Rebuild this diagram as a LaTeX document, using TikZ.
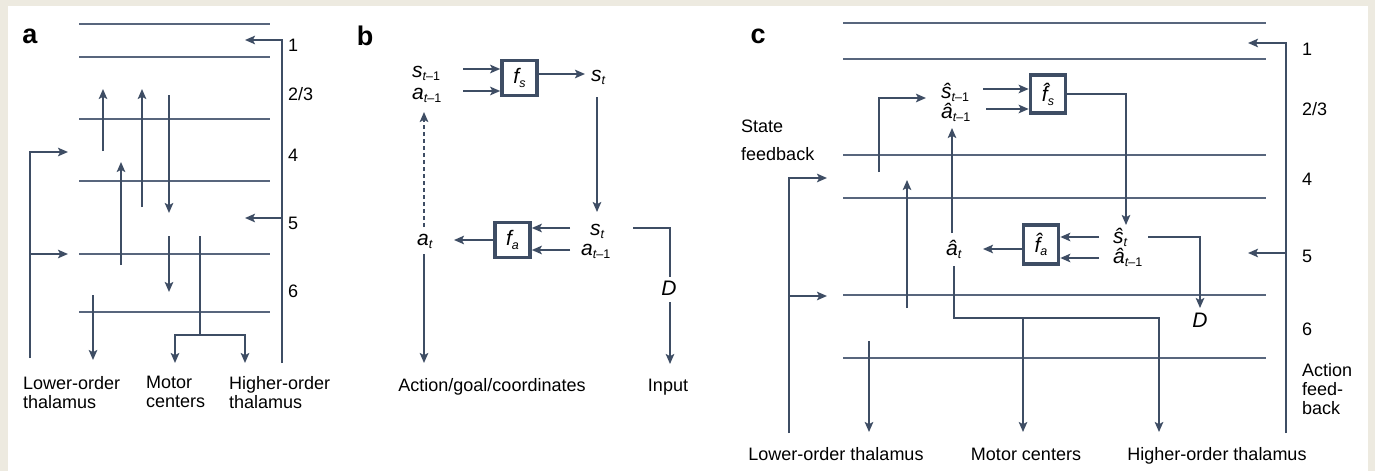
\documentclass[tikz,border=0pt]{standalone}
\usepackage{fontspec}
\setmainfont{Liberation Sans}
\usetikzlibrary{arrows.meta}

\definecolor{bgcard}{RGB}{237,234,224}
\definecolor{ink}{RGB}{62,77,100}
\definecolor{layerc}{RGB}{88,102,125}

\newcommand{\subs}[1]{\raisebox{-0.16em}{\fontsize{12.5}{12.5}\selectfont #1}}

\tikzset{
  cortex/.style={draw=layerc, line width=1.5pt},
  wire/.style={draw=ink, line width=2.6pt},
  arr/.style={wire, -{Stealth[length=10pt,width=8.5pt,inset=2.2pt]}},
  fbox/.style={draw=ink, line width=3.6pt, minimum width=35pt, minimum height=35pt,
    inner sep=0pt, font=\fontsize{21}{23}\selectfont\itshape},
  var/.style={inner sep=0pt, anchor=base west, font=\fontsize{21}{23}\selectfont\itshape},
  lbl/.style={inner sep=0pt, font=\fontsize{18}{19}\selectfont},
  num/.style={lbl, anchor=west},
  panel/.style={inner sep=0pt, font=\fontsize{27}{27}\selectfont\bfseries},
}

\begin{document}
\begin{tikzpicture}[x=1pt, y=-1pt]

\fill[bgcard] (0,0) rectangle (1375,471);
\fill[white] (8,6) rectangle (1368,471);
\useasboundingbox (0,0) rectangle (1375,471);

% Panel a
\node[panel] (pa) at (30,36) {a};
\foreach \y in {24,57,119,181,254,312} \draw[cortex] (79,\y) -- (270,\y);
\node[num] (a1) at (288,45) {1};
\node[num] (a23) at (288,94) {2/3};
\node[num] (a4) at (288,155) {4};
\node[num] (a5) at (288,223) {5};
\node[num] (a6) at (288,291) {6};

\draw[arr] (282,363) -- (282,40) -- (245,40);
\draw[arr] (282,218) -- (245,218);
\draw[arr] (30,358) -- (30,152) -- (68,152);
\draw[arr] (30,254) -- (68,254);

\draw[arr] (103,151) -- (103,89);
\draw[arr] (142,207) -- (142,89);
\draw[arr] (121,265) -- (121,162);
\draw[arr] (169,95) -- (169,213);
\draw[arr] (169,236) -- (169,292);
\draw[arr] (93,295) -- (93,360);

\draw[wire] (200,236) -- (200,335);
\draw[arr] (200,335) -| (175,363);
\draw[arr] (200,335) -| (245,363);

\node[lbl, align=left, anchor=north west] (alower) at (23,376) {Lower-order\\thalamus};
\node[lbl, align=left, anchor=north west] (amotor) at (146,376) {Motor\\centers};
\node[lbl, align=left, anchor=north west] (ahigher) at (229,376) {Higher-order\\thalamus};

% Panel b
\node[panel] (pb) at (365,36) {b};
\node[var] (bsprev) at (412,77) {s\subs{t\upshape–1}};
\node[var] (baprev) at (412,99) {a\subs{t\upshape–1}};
\node[fbox] (fs) at (519.5,78) {f\subs{s}};
\node[var] (bst) at (591,81) {s\subs{t}};
\node[var] (bstb) at (590,235) {s\subs{t}};
\node[var] (bapb) at (581,255) {a\subs{t\upshape–1}};
\node[fbox] (fa) at (512.5,240) {f\subs{a}};
\node[var] (bat) at (417,245) {a\subs{t}};
\node[var, anchor=base] (bD) at (669,295) {D};
\node[lbl, anchor=base] (baction) at (492,391) {Action/goal/coordinates};
\node[lbl, anchor=base] (binput) at (668,391) {Input};

\coordinate (bin1) at (463,69);
\coordinate (bin2) at (463,91);
\draw[arr] (bin1) -- (bin1 -| fs.west);
\draw[arr] (bin2) -- (bin2 -| fs.west);
\coordinate (bout) at (585,74);
\draw[arr] (bout -| fs.east) -- (bout);
\draw[arr] (597,97) -- (597,212);
\coordinate (bin3) at (570,228);
\coordinate (bin4) at (570,250);
\draw[arr] (bin3) -- (bin3 -| fa.east);
\draw[arr] (bin4) -- (bin4 -| fa.east);
\draw[arr] (fa.west) -- (454,240);
\draw[arr, dash pattern=on 4pt off 3pt] (424,227) -- (424,112);
\draw[arr] (424,254) -- (424,363);
\draw[wire] (633,228) -| (670,277);
\draw[arr] (670,302) -- (670,364);

% Panel c
\node[panel] (pc) at (758,36) {c};
\foreach \y in {23,59,155,198,295,358} \draw[cortex] (843,\y) -- (1266,\y);
\node[num] (c1) at (1302,49) {1};
\node[num] (c23) at (1302,109) {2/3};
\node[num] (c4) at (1302,179) {4};
\node[num] (c5) at (1302,256) {5};
\node[num] (c6) at (1302,329) {6};
\node[lbl, align=left, anchor=north west] (cafb) at (1302,363) {Action\\feed-\\back};
\node[lbl, align=left, anchor=north west] (csfb) at (741,120) {State\\[9pt]feedback};

\draw[arr] (1286,433) -- (1286,43) -- (1248,43);
\draw[arr] (1286,253) -- (1248,253);
\draw[arr] (789,433) -- (789,178) -- (827,178);
\draw[arr] (789,296) -- (827,296);

\node[var] (csprev) at (941,98) {\^{s}\subs{t\upshape–1}};
\node[var] (caprev) at (941,118) {\^{a}\subs{t\upshape–1}};
\node[fbox, minimum height=38pt] (cfs) at (1048,94) {\^{f}\subs{s}};
\node[var] (cst) at (1113,243) {\^{s}\subs{t}};
\node[var] (capb) at (1113,263) {\^{a}\subs{t\upshape–1}};
\node[fbox, minimum height=39pt] (cfa) at (1041,244.5) {\^{f}\subs{a}};
\node[var] (cat) at (946,255) {\^{a}\subs{t}};
\node[var, anchor=base] (cD) at (1200,327) {D};

\draw[arr] (879,172) |- (926,98);
\coordinate (cin1) at (983,89);
\coordinate (cin2) at (986,109);
\draw[arr] (cin1) -- (cin1 -| cfs.west);
\draw[arr] (cin2) -- (cin2 -| cfs.west);
\draw[arr] (cfs.east) -| (1126,225);
\coordinate (cin3) at (1099,237);
\coordinate (cin4) at (1099,258);
\draw[arr] (cin3) -- (cin3 -| cfa.east);
\draw[arr] (cin4) -- (cin4 -| cfa.east);
\coordinate (cout) at (983,249);
\draw[arr] (cout -| cfa.west) -- (cout);
\draw[arr] (952,233) -- (952,128);
\draw[arr] (907,308) -- (907,180);
\draw[arr] (1148,237) -| (1200,308);
\draw[arr] (954,266) |- (1159,318) -- (1159,432);
\draw[arr] (1023,318) -- (1023,432);
\draw[arr] (869,341) -- (869,432);

\node[lbl, anchor=base] (clower) at (836,460) {Lower-order thalamus};
\node[lbl, anchor=base] (cmotor) at (1026,460) {Motor centers};
\node[lbl, anchor=base] (chigher) at (1217,460) {Higher-order thalamus};

\end{tikzpicture}
\end{document}
